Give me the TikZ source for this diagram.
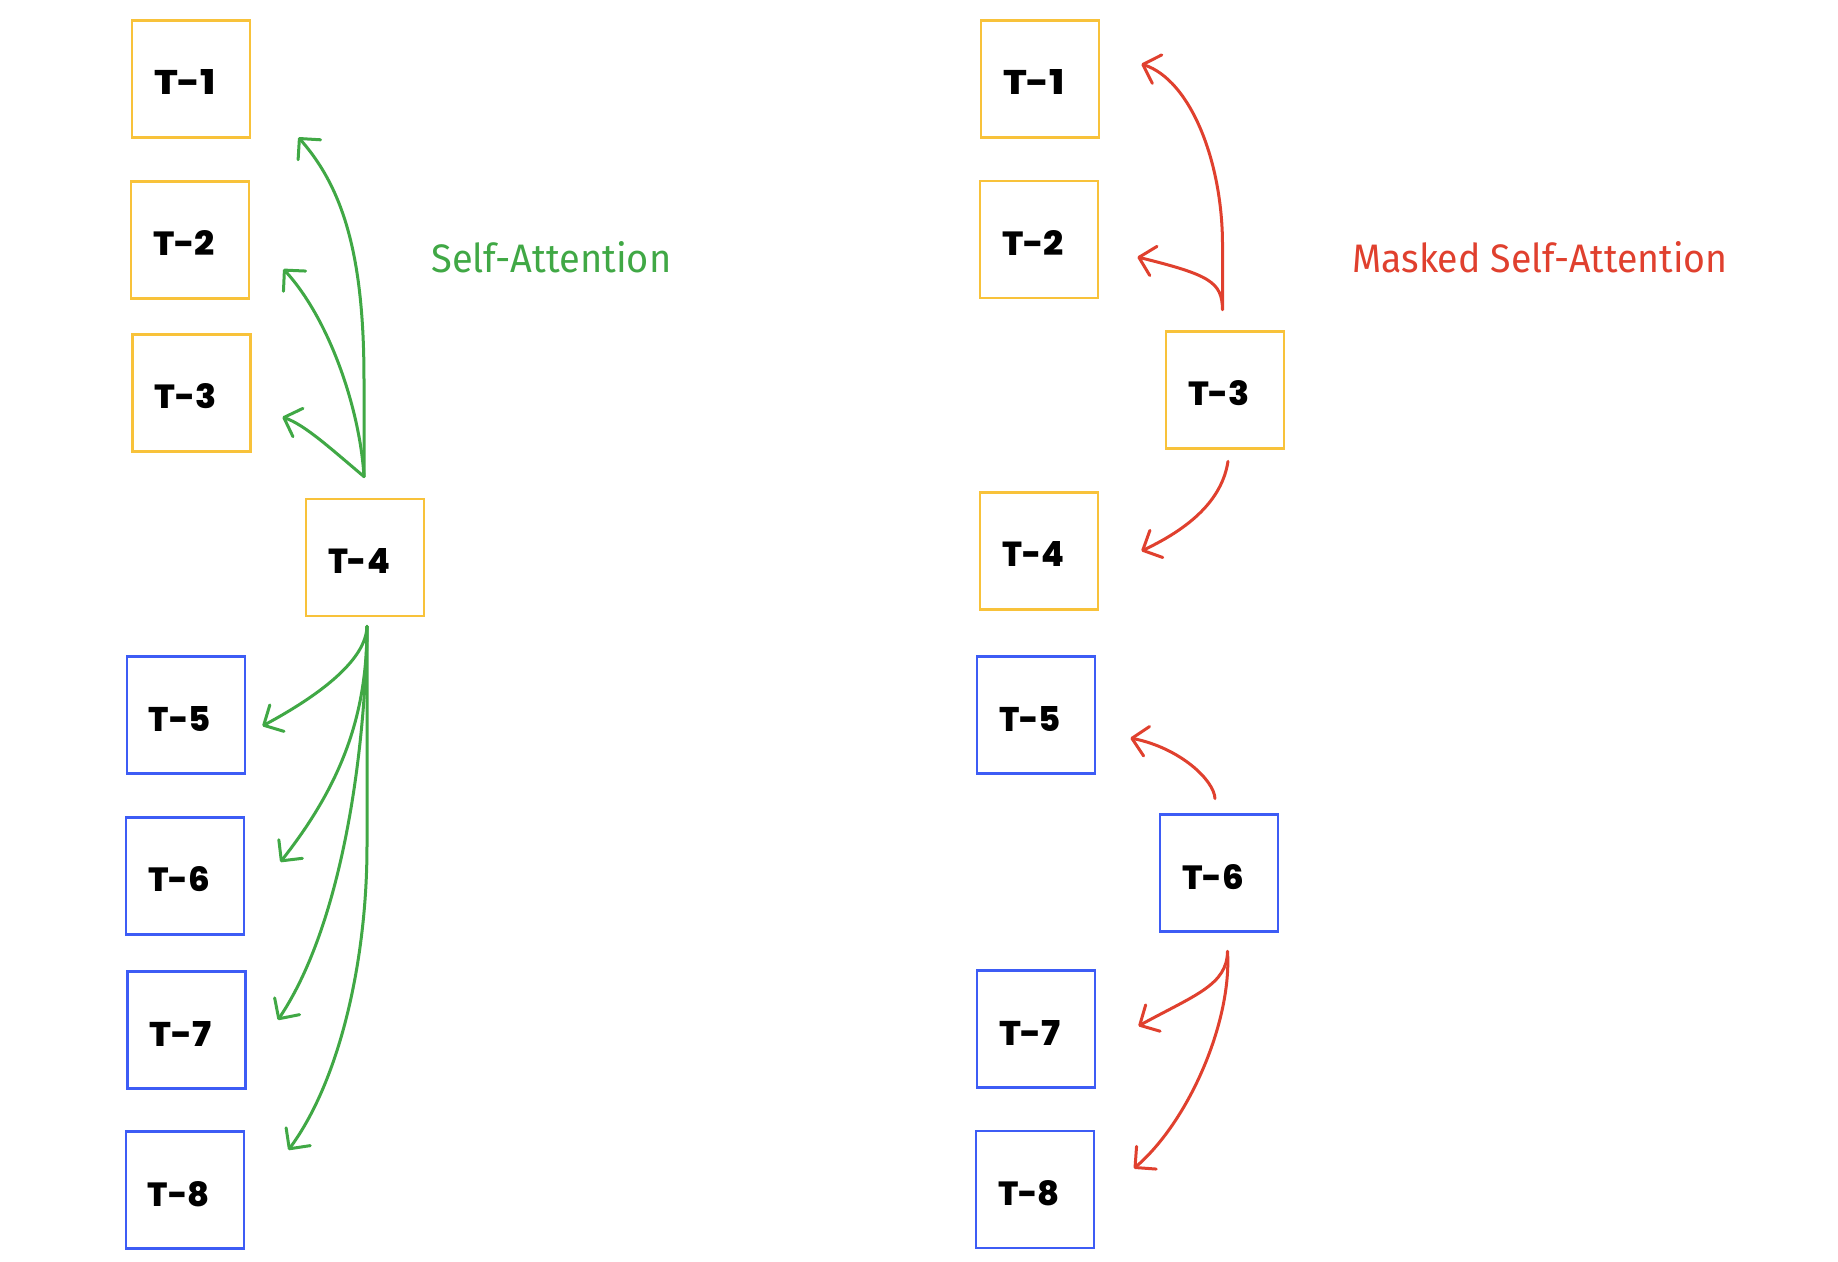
\documentclass[tikz,border=0pt]{standalone}
\usepackage{fontspec}
\usepackage{graphicx}
\usetikzlibrary{arrows.meta}
\newfontfamily\labfont{Poppins ExtraBold}
\newfontfamily\handfont{Fira Sans}
\definecolor{tyellow}{HTML}{F8C23A}
\definecolor{tblue}{HTML}{3D5CF5}
\definecolor{tgreen}{HTML}{40A845}
\definecolor{tred}{HTML}{E0402E}
\newcommand{\tlab}[1]{\raisebox{-1.75pt}[12.5pt][0pt]{\makebox[33pt][l]{\hspace*{-2pt}\resizebox{31pt}{12.5pt}{\labfont #1}}}}
\tikzset{
  tokbox/.style={draw, line width=1.4pt, minimum width=59pt, minimum height=58.5pt, inner sep=0pt, anchor=center},
  ybox/.style={tokbox, draw=tyellow},
  bbox/.style={tokbox, draw=tblue},
  garrow/.style={draw=tgreen, line width=1.5pt, line cap=round, line join=round, -{Straight Barb[length=7.5pt,width=15pt,round]}},
  rarrow/.style={draw=tred, line width=1.5pt, line cap=round, line join=round, -{Straight Barb[length=7.5pt,width=15pt,round]}},
}
\begin{document}
\begin{tikzpicture}[x=0.5pt,y=-0.5pt]
\fill[white] (0,0) rectangle (1838,1262);
\path[use as bounding box] (0,0) rectangle (1838,1262);

% left column
\node[ybox] (l1) at (191,79) {\tlab{T-1}};
\node[ybox] (l2) at (190,240) {\tlab{T-2}};
\node[ybox] (l3) at (191.5,393) {\tlab{T-3}};
\node[ybox] (l4) at (365,557.5) {\tlab{T-4}};
\node[bbox] (l5) at (186,715) {\tlab{T-5}};
\node[bbox] (l6) at (185,876) {\tlab{T-6}};
\node[bbox] (l7) at (186.5,1030) {\tlab{T-7}};
\node[bbox] (l8) at (185,1190) {\tlab{T-8}};

% right column
\node[ybox] (r1) at (1040,79) {\tlab{T-1}};
\node[ybox] (r2) at (1039,239.5) {\tlab{T-2}};
\node[ybox] (r3) at (1225,390) {\tlab{T-3}};
\node[ybox] (r4) at (1039,551) {\tlab{T-4}};
\node[bbox] (r5) at (1036,715) {\tlab{T-5}};
\node[bbox] (r6) at (1219,873) {\tlab{T-6}};
\node[bbox] (r7) at (1036,1029) {\tlab{T-7}};
\node[bbox] (r8) at (1035,1189.5) {\tlab{T-8}};

% titles
\node[anchor=base west, inner sep=0pt, text=tgreen] (tsa) at (431,273) {\resizebox{120pt}{15.5pt}{\handfont Self-Attention}};
\node[anchor=base west, inner sep=0pt, text=tred] (tmsa) at (1352,273) {\resizebox{187.5pt}{15.5pt}{\handfont Masked Self-Attention}};

% green connectors (self-attention from T-4)
\draw[garrow] ([shift={(-1,-21)}]l4.north) -- (364,380) .. controls (364,260) and (345,190) .. ([shift={(47,-1.5)}]l1.south east);
\draw[garrow] ([shift={(-1,-21)}]l4.north) .. controls (360,410) and (330,320) .. ([shift={(33,29)}]l2.east);
\draw[garrow] ([shift={(-1,-21)}]l4.north) .. controls (330,448) and (305,425) .. ([shift={(30.5,24)}]l3.east);
\draw[garrow] ([shift={(2,9)}]l4.south) .. controls (366,660) and (320,695) .. ([shift={(16,11)}]l5.east);
\draw[garrow] ([shift={(2,9)}]l4.south) .. controls (367,710) and (345,780) .. ([shift={(35,-14)}]l6.east);
\draw[garrow] ([shift={(2,9)}]l4.south) .. controls (366,740) and (345,920) .. ([shift={(31,-10)}]l7.east);
\draw[garrow] ([shift={(2,9)}]l4.south) -- (367,846) .. controls (367,960) and (340,1080) .. ([shift={(43,-40)}]l8.east);

% red connectors (masked self-attention)
\draw[rarrow] ([shift={(-2.5,-20.5)}]r3.north) -- (1222.5,243) .. controls (1222,160) and (1190,80) .. ([shift={(41,-15)}]r1.east);
\draw[rarrow] ([shift={(-2.5,-20.5)}]r3.north) .. controls (1222,282) and (1210,275) .. ([shift={(38,17.5)}]r2.east);
\draw[rarrow] ([shift={(3,11.5)}]r3.south) .. controls (1222,500) and (1190,528) .. ([shift={(42,0)}]r4.east);
\draw[rarrow] ([shift={(-4,-14.5)}]r6.north) .. controls (1214,780) and (1180,748) .. ([shift={(34,23)}]r5.east);
\draw[rarrow] ([shift={(8.5,18.5)}]r6.south) .. controls (1227,985) and (1195,995) .. ([shift={(42,-3)}]r7.east);
\draw[rarrow] ([shift={(8.5,18.5)}]r6.south) .. controls (1232,1020) and (1190,1120) .. ([shift={(38.5,-21)}]r8.east);
\end{tikzpicture}
\end{document}
